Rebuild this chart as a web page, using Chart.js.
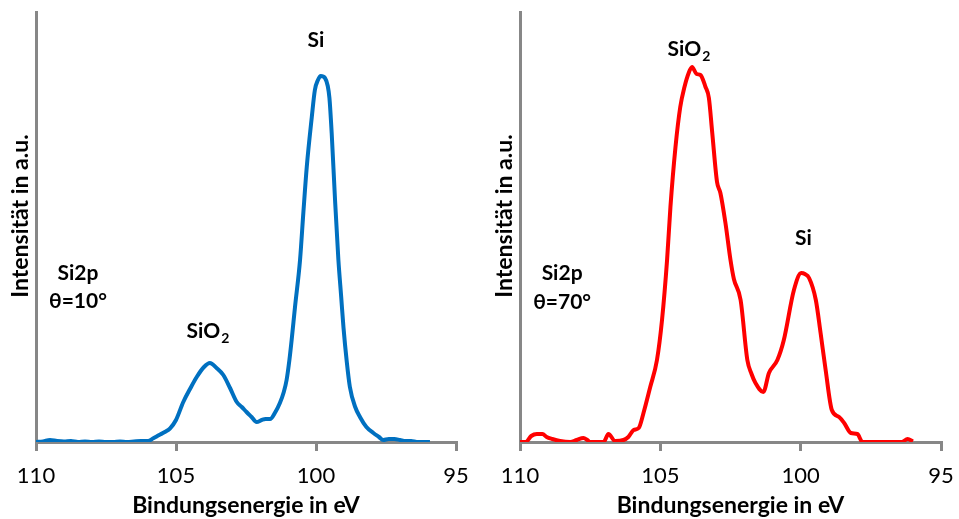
<!DOCTYPE html>
<html><head><meta charset="utf-8">
<script src="https://cdn.jsdelivr.net/npm/chart.js@4"></script>
<style>
html,body{margin:0;padding:0;background:#fff;overflow:hidden}
#wrap{position:relative;width:959px;height:519px}
#c1{position:absolute;left:0;top:0}
#c2{position:absolute;left:480px;top:0}
</style></head><body>
<div id="wrap"><canvas id="c1" width="480" height="519"></canvas><canvas id="c2" width="479" height="519"></canvas></div>
<script>
// ---- data ----
const energyTicks = [110, 105, 100, 95];
const xTitle = 'Bindungsenergie in eV';
const yTitle = 'Intensität in a.u.';

const energy10 = [110.0,109.75,109.5,109.25,109.0,108.75,108.5,108.25,108.0,107.75,107.5,107.25,107.0,106.75,106.5,106.25,106.0,105.81,105.6,105.4,105.21,105.0,104.74,104.5,104.26,104.0,103.79,103.55,103.31,103.07,102.83,102.65,102.48,102.3,102.12,101.94,101.8,101.64,101.45,101.29,101.15,101.05,100.95,100.87,100.75,100.57,100.45,100.33,100.15,100.04,99.93,99.83,99.68,99.58,99.52,99.44,99.32,99.2,99.1,99.02,98.9,98.79,98.6,98.43,98.2,97.95,97.75,97.6,97.4,97.2,97.0,96.8,96.6,96.4,96.2,95.93];
const intensity10 = [0,0.5,2,1,0.5,1,0,0.5,0,0.5,0,0,0.5,0,0.5,1,1,3.7,7,10,13.7,22,40,53,65,75,79,74,67,54,40,35,30,25,20,22,23,23,30,39,50,62,82,102,135,182,230,275,325,352,362,366,364,356,344,309,242,182,145,115,80,55,35,25,15,9,5,2,3,3,2,1,1,0,0,0];

const energy70 = [110.0,109.8,109.6,109.4,109.2,109.05,108.85,108.57,108.21,107.98,107.74,107.6,107.5,107.02,106.85,106.61,106.31,106.14,105.95,105.77,105.6,105.36,105.12,104.94,104.76,104.64,104.46,104.29,104.14,103.99,103.87,103.71,103.57,103.39,103.27,103.15,102.98,102.86,102.68,102.5,102.38,102.14,101.9,101.75,101.61,101.33,101.13,100.83,100.6,100.24,99.98,99.85,99.7,99.46,99.29,99.11,98.89,98.63,98.45,98.21,97.98,97.8,97.38,97.14,96.79,96.4,96.19,96.0];
const intensity70 = [0,0,6,8,8,5,3,1,0,2,4,2,0,0,8,1,2,5,12,14,29,55,82,122,182,235,295,335,355,369,375,368,367,355,344,309,260,249,219,182,163,142,82,68,59,50,69,82,102,152,169,168,164,142,109,72,32,25,19,9,8,0,0,0,0,0,3,0.5];

const labels10 = [
  {text:'Si', x:100.0, y:402},
  {text:'SiO', sub:'2', x:103.86, y:111},
  {text:'Si2p', x:108.5, y:169},
  {text:'θ=10°', x:108.5, y:141}
];
const labels70 = [
  {text:'SiO', sub:'2', x:103.98, y:393},
  {text:'Si', x:99.9, y:204},
  {text:'Si2p', x:108.5, y:169},
  {text:'θ=70°', x:108.5, y:140}
];

const FONT = 'Lato';
const AXIS_GRAY = '#878787';

const labelPlugin = {
  id: 'peakLabels',
  afterDatasetsDraw(chart, args, opts) {
    const {ctx, chartArea} = chart;
    const xs = chart.scales.x, ys = chart.scales.y;
    ctx.save();
    ctx.fillStyle = '#000';
    ctx.textBaseline = 'middle';
    ctx.textAlign = 'left';
    (opts.items || []).forEach(it => {
      const px = xs.getPixelForValue(it.x), py = ys.getPixelForValue(it.y);
      ctx.font = 'bold 21px ' + FONT;
      const w1 = ctx.measureText(it.text).width;
      let w2 = 0;
      if (it.sub) { ctx.font = 'bold 14px ' + FONT; w2 = ctx.measureText(it.sub).width + 1; }
      const sx = px - (w1 + w2) / 2;
      ctx.font = 'bold 21px ' + FONT;
      ctx.fillText(it.text, sx, py);
      if (it.sub) { ctx.font = 'bold 14px ' + FONT; ctx.fillText(it.sub, sx + w1 + 1, py + 7); }
    });
    // y axis title
    ctx.translate(chartArea.left - 15, (chartArea.top + chartArea.bottom) / 2 - 11);
    ctx.rotate(-Math.PI / 2);
    ctx.textAlign = 'center';
    ctx.font = 'bold 23px ' + FONT;
    ctx.fillText(yTitle, 0, 0);
    ctx.restore();
  }
};

function makeChart(id, energy, intensity, color, items, yWidth, rightPad) {
  return new Chart(document.getElementById(id), {
    type: 'line',
    data: {
      datasets: [{
        data: energy.map((e, i) => ({x: e, y: intensity[i]})),
        borderColor: color,
        borderWidth: 4,
        pointRadius: 0,
        fill: false,
        cubicInterpolationMode: 'monotone'
      }]
    },
    options: {
      responsive: false,
      animation: false,
      devicePixelRatio: 1,
      layout: {padding: {top: 12, right: rightPad, left: 0, bottom: 0}},
      plugins: {legend: {display: false}, tooltip: {enabled: false}, peakLabels: {items}},
      scales: {
        x: {
          type: 'linear', min: 95, max: 110, reverse: true,
          afterBuildTicks: s => { s.ticks = energyTicks.map(v => ({value: v})); },
          ticks: {font: {family: FONT, size: 22}, color: '#000', padding: 12, maxRotation: 0},
          grid: {display: true, drawOnChartArea: false, drawTicks: true, tickLength: 9, color: AXIS_GRAY, lineWidth: 3},
          border: {display: true, color: AXIS_GRAY, width: 3},
          title: {display: true, text: xTitle, font: {family: FONT, size: 23, weight: 'bold'}, color: '#000', padding: 0},
          afterFit: s => { s.height = 77; s.paddingLeft = 0; s.paddingRight = 0; }
        },
        y: {
          min: 0, max: 430,
          ticks: {display: false},
          grid: {display: false, drawTicks: false},
          border: {display: true, color: AXIS_GRAY, width: 3},
          afterFit: s => { s.width = yWidth; }
        }
      }
    },
    plugins: [labelPlugin]
  });
}

makeChart('c1', energy10, intensity10, '#0070C0', labels10, 36, 24);
makeChart('c2', energy70, intensity70, '#FF0000', labels70, 40, 18);
</script>
</body></html>
